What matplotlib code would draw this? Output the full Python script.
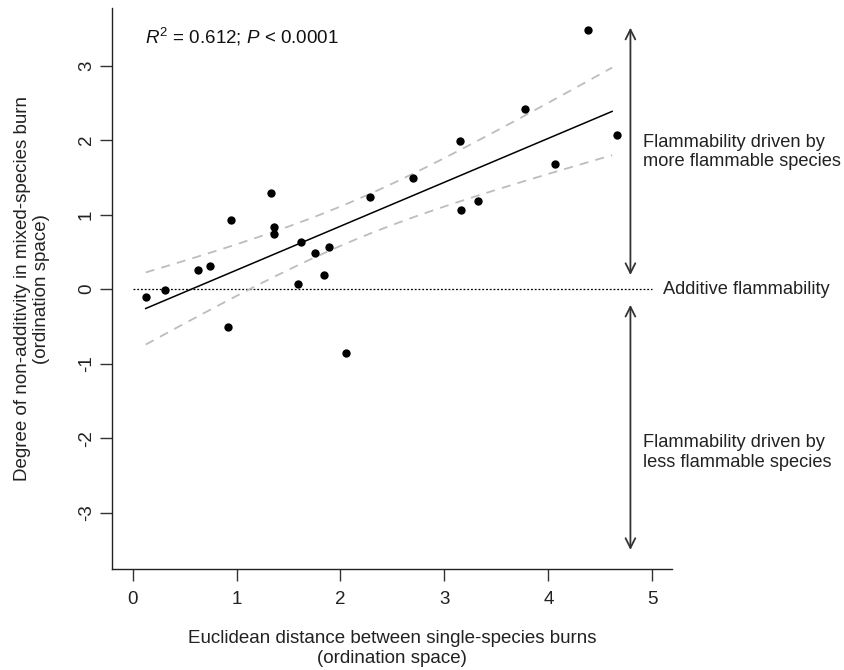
import numpy as np
import matplotlib
matplotlib.use("Agg")
import matplotlib.pyplot as plt

plt.rcParams['font.family'] = ['Liberation Sans', 'DejaVu Sans']
plt.rcParams['mathtext.fontset'] = 'custom'
plt.rcParams['mathtext.rm'] = 'Liberation Sans'
plt.rcParams['mathtext.it'] = 'Liberation Sans:italic'

# Data
dist = [0.126, 0.312, 0.629, 0.741, 0.943, 0.920, 1.334, 1.360, 1.363, 1.619,
        1.590, 1.751, 1.843, 1.886, 2.052, 2.289, 2.696, 3.148, 3.161, 3.324,
        3.776, 4.068, 4.382, 4.664]
nonadd = [-0.107, -0.005, 0.263, 0.309, 0.935, -0.502, 1.289, 0.841, 0.739, 0.635,
          0.067, 0.492, 0.188, 0.572, -0.860, 1.240, 1.491, 1.983, 1.061, 1.177,
          2.418, 1.683, 3.473, 2.073]
xticks = [0, 1, 2, 3, 4, 5]
yticks = [-3, -2, -1, 0, 1, 2, 3]
stat_text = r"$R^2$ = 0.612; $P$ < 0.0001"
upper_label = "Flammability driven by\nmore flammable species"
lower_label = "Flammability driven by\nless flammable species"
mid_label = "Additive flammability"
xlabel = "Euclidean distance between single-species burns\n(ordination space)"
ylabel = "Degree of non-additivity in mixed-species burn\n(ordination space)"

FS = 13.5
FS_R = 13.15
LS = 1.2
x = np.array(dist)
y = np.array(nonadd)

fig = plt.figure(figsize=(8.44, 6.70), dpi=100)
ax = fig.add_axes([0.1331, 0.1503, 0.7962 - 0.1331, 0.9876 - 0.1503])

# Linear fit and 95% confidence band
n = len(x)
b, a = np.polyfit(x, y, 1)
resid = y - (a + b * x)
s = np.sqrt(np.sum(resid ** 2) / (n - 2))
xm = x.mean()
sxx = np.sum((x - xm) ** 2)
t = 2.074
xx = np.linspace(x.min(), x.max() - 0.05, 200)
yy = a + b * xx
se = s * np.sqrt(1.0 / n + (xx - xm) ** 2 / sxx)

ax.plot([0, 5], [0, 0], color='black', lw=0.9, ls=(0, (1.5, 1.5)))
ax.plot(xx, yy + t * se, color='#bdbdbd', lw=1.3, ls=(0, (5, 4)))
ax.plot(xx, yy - t * se, color='#bdbdbd', lw=1.3, ls=(0, (5, 4)))
ax.plot(xx, yy, color='black', lw=1.1)
ax.scatter(x, y, s=36, color='black', zorder=5, linewidths=0)

ax.set_xlim(-0.195, 5.19)
ax.set_ylim(-3.76, 3.77)
ax.set_xticks(xticks)
ax.set_yticks(yticks)
ax.set_yticklabels([str(v) for v in yticks], rotation=90, va='center')
for sp in ['top', 'right']:
    ax.spines[sp].set_visible(False)
for sp in ['left', 'bottom']:
    ax.spines[sp].set_linewidth(1.0)
    ax.spines[sp].set_color('#222222')
ax.tick_params(axis='both', length=8.5, width=1.0, color='#333333',
               labelsize=FS, labelcolor='#222222')
ax.tick_params(axis='x', pad=7)
ax.tick_params(axis='y', pad=4)

ax.set_xlabel(xlabel, fontsize=FS, color='#222222', labelpad=16, linespacing=LS)
ax.set_ylabel(ylabel, fontsize=FS, color='#222222', labelpad=20, linespacing=LS)

ax.text(0.12, 3.39, stat_text, fontsize=FS, ha='left', va='center', color='#111111')

# arrows
arrow_x = 4.79
ap = dict(arrowstyle='<->,head_length=0.7,head_width=0.35', color='#333333', lw=1.3,
          shrinkA=0, shrinkB=0)
ax.annotate('', xy=(arrow_x, 3.51), xytext=(arrow_x, 0.19), arrowprops=ap,
            annotation_clip=False)
ax.annotate('', xy=(arrow_x, -0.21), xytext=(arrow_x, -3.50), arrowprops=ap,
            annotation_clip=False)

ax.text(4.915, 1.84, upper_label, fontsize=FS_R, ha='left', va='center',
        color='#222222', clip_on=False, linespacing=LS)
ax.text(4.915, -2.19, lower_label, fontsize=FS_R, ha='left', va='center',
        color='#222222', clip_on=False, linespacing=LS)
ax.text(5.10, 0.0, mid_label, fontsize=FS_R, ha='left', va='center',
        color='#222222', clip_on=False)

fig.savefig('out.png', dpi=100)
